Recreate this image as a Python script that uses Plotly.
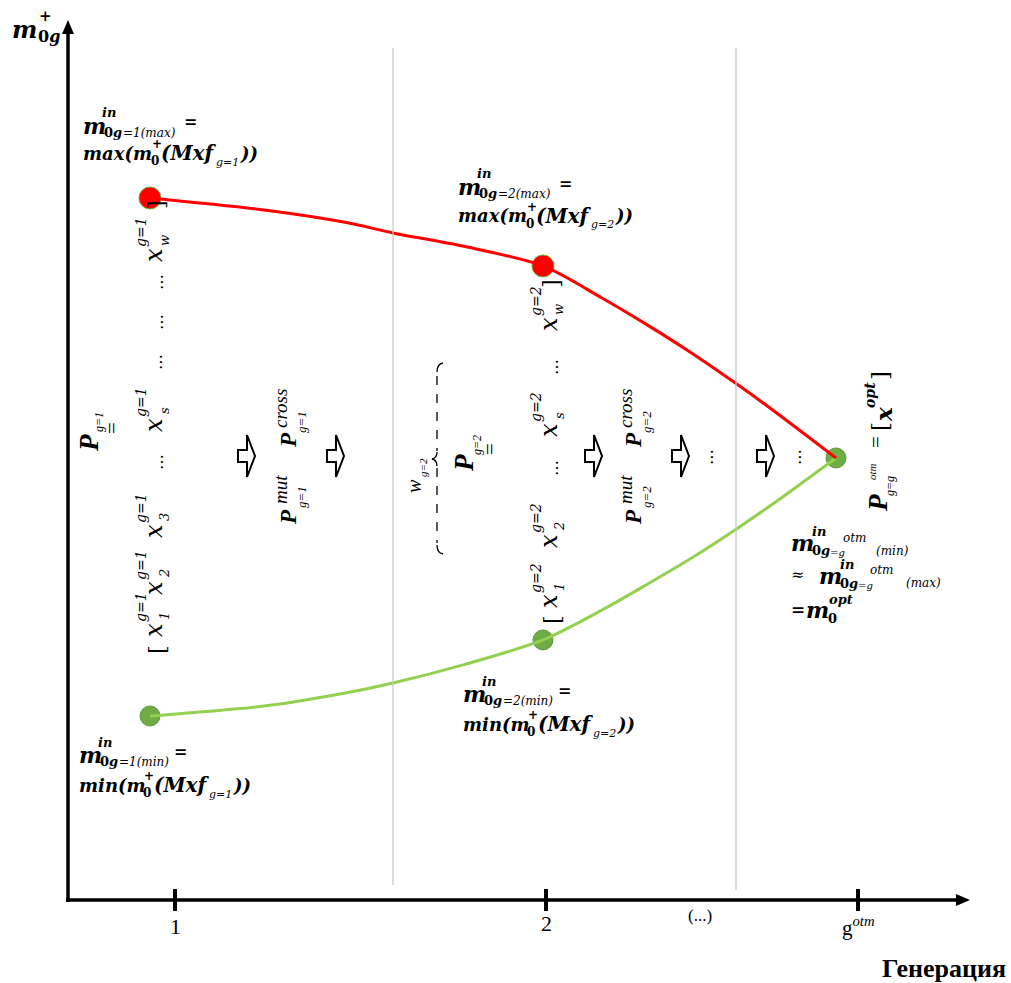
import plotly.graph_objects as go

# ---------------- data ----------------
generation_ticks = [1, 2, 2.841]
generation_tick_labels = ["1", "2", "g<sup><i>otm</i></sup>"]
ellipsis_generation = [2.415]
ellipsis_label = ["(...)"]

curve_gen = [0.9326, 1.2507, 1.4623, 1.5876, 1.7790, 1.9919,
             2.1509, 2.2695, 2.3881, 2.5094, 2.6226, 2.7817]
max_curve_fit = [79.77, 78.36, 76.99, 75.80, 74.28, 72.05,
                 68.41, 65.44, 62.27, 58.77, 55.32, 50.23]
min_curve_fit = [20.91, 22.09, 23.55, 24.66, 26.75, 29.55,
                 32.95, 35.80, 38.75, 42.05, 45.34, 50.23]

point_gen = [0.9326, 1.9919, 2.7817]
max_point_fit = [79.77, 72.05]
min_point_fit = [20.91, 29.55, 50.23]

x_axis_title = "Генерация"

# ---------------- layout helpers ----------------
W, H = 1011, 983
X1PX, GPX = 175, 371      # pixel of generation 1, pixels per generation
Y0PX, FPX = 900, 8.8      # pixel of fitness 0, pixels per unit
xr = [1 - X1PX / GPX, 1 + (W - X1PX) / GPX]
yr = [-(H - Y0PX) / FPX, Y0PX / FPX]

MF = "DejaVu Serif"
TF = "Liberation Serif"

ann = []
shapes = []


def T(x, y, s, size, font=MF, b=False, i=False, anchor="left", rot=False, xref="paper"):
    if i:
        s = "<i>" + s + "</i>"
    if b:
        s = "<b>" + s + "</b>"
    ann.append(dict(
        x=(x / W if xref == "paper" else x), y=1 - y / H, xref=xref, yref="paper",
        text=s, showarrow=False, borderpad=0,
        font=dict(family=font, size=size, color="black"),
        xanchor=("center" if rot else anchor), yanchor="middle",
        textangle=(-90 if rot else 0)))


def pp(x, y):
    return f"{x / W:.5f},{1 - y / H:.5f}"


def poly(pts, close=True):
    s = "M" + " L".join(pp(*p) for p in pts)
    return s + (" Z" if close else "")


def seg(x0, y0, x1, y1, color="black", width=3, dash="solid"):
    shapes.append(dict(type="line", xref="paper", yref="paper",
                       x0=x0 / W, y0=1 - y0 / H, x1=x1 / W, y1=1 - y1 / H,
                       line=dict(color=color, width=width, dash=dash)))


# ---------------- figure ----------------
fig = go.Figure()

# markers first (lines are drawn over them)
fig.add_trace(go.Scatter(x=point_gen, y=min_point_fit, mode="markers",
                         marker=dict(size=20, color="#6fac46", line=dict(color="#5e9a3a", width=1)),
                         hoverinfo="skip", showlegend=False))
fig.add_trace(go.Scatter(x=point_gen[:2], y=max_point_fit, mode="markers",
                         marker=dict(size=22, color="#ff0000", line=dict(color="#6fac46", width=1)),
                         hoverinfo="skip", showlegend=False))
fig.add_trace(go.Scatter(x=curve_gen, y=min_curve_fit, mode="lines",
                         line=dict(color="#92d050", width=3, shape="spline", smoothing=0.8),
                         hoverinfo="skip", showlegend=False))
fig.add_trace(go.Scatter(x=curve_gen, y=max_curve_fit, mode="lines",
                         line=dict(color="#ff0000", width=3, shape="spline", smoothing=0.8),
                         hoverinfo="skip", showlegend=False))

# axes with arrows
seg(68, 902, 68, 30, width=3.5)
shapes.append(dict(type="path", xref="paper", yref="paper",
                   path=poly([(62, 34), (74, 34), (68, 20)]), fillcolor="black", line=dict(width=0)))
seg(66, 900, 958, 900, width=3.5)
shapes.append(dict(type="path", xref="paper", yref="paper",
                   path=poly([(956, 894), (956, 906), (970, 900)]), fillcolor="black", line=dict(width=0)))

# tick marks at generations
for g in generation_ticks:
    shapes.append(dict(type="line", xref="x", yref="y", x0=g, x1=g, y0=-1.25, y1=1.25,
                       line=dict(color="black", width=4)))
for g, lab in zip(generation_ticks, generation_tick_labels):
    T(g, 926 if lab != "2" else 923, lab, 22 if len(lab) == 1 else 21,
      font=TF, anchor="center", xref="x")
for g, lab in zip(ellipsis_generation, ellipsis_label):
    T(g, 915, lab, 17, font=TF, anchor="center", xref="x")
T(944, 968, x_axis_title, 26, font=TF, b=True, anchor="center")

# grey separators
seg(393, 48, 393, 885, color="#c8c8c8", width=1.3)
seg(736, 48, 736, 890, color="#c8c8c8", width=1.3)

# y-axis title
T(11, 29, "m", 24, b=True, i=True)
T(38, 16, "+", 15, b=True)
T(37, 37, "0<i>g</i>", 16, b=True)


def in_label(x0, y1, y2, g, kind, o):
    T(x0, y1, "m", 22, b=True, i=True)
    T(x0 + 19, y1 - 13, "in", 13, b=True, i=True)
    T(x0 + 21, y1 + 6, "0<i>g</i>", 13, b=True)
    T(x0 + 40, y1 + 7, f"={g}({kind})", 12, i=True)
    T(x0 + o[0], y1 - 4, "=", 16, b=True)
    T(x0, y2, f"{kind}(m", 18, b=True, i=True)
    T(x0 + o[1], y2 - 9, "+", 12, b=True)
    T(x0 + o[1] - 1, y2 + 8, "0", 12, b=True)
    T(x0 + o[2], y2, "(Mxf", 20, b=True, i=True)
    T(x0 + o[3], y2 + 9, f"g={g}", 11, i=True)
    T(x0 + o[4], y2, "))", 18, b=True, i=True)


OMAX = (101, 69, 78, 133, 157)
OMIN = (95, 65, 75, 130, 154)
in_label(82, 126, 153, 1, "max", OMAX)
in_label(457, 187, 216, 2, "max", OMAX)
in_label(78, 755, 785, 1, "min", OMIN)
in_label(462, 694, 724, 2, "min", OMIN)

# bottom-right label
T(790, 543, "m", 22, b=True, i=True)
T(811, 531, "in", 13, b=True, i=True)
T(811, 550, "0<i>g</i>", 13, b=True)
T(829, 552, "=g", 10, i=True)
T(842, 538, "otm", 12, i=True)
T(875, 551, "(min)", 12, i=True)
T(790, 574, "≈", 16)
T(818, 576, "m", 22, b=True, i=True)
T(839, 564, "in", 13, b=True, i=True)
T(839, 583, "0<i>g</i>", 13, b=True)
T(857, 585, "=g", 10, i=True)
T(869, 570, "otm", 12, i=True)
T(905, 583, "(max)", 12, i=True)
T(790, 609, "=", 17, b=True)
T(805, 610, "m", 22, b=True, i=True)
T(828, 599, "opt", 13, b=True, i=True)
T(827, 618, "0", 13, b=True)


# rotated population matrices
def matrix(cx, gtxt, elems, dots, lb, rb):
    for sub, cy in elems:
        T(cx, cy, "x", 24, i=True, rot=True)
        T(cx - 13, cy - 23, gtxt, 14, i=True, rot=True)
        T(cx + 10, cy - 14, sub, 13, i=True, rot=True)
    for cy in dots:
        T(cx + 3, cy, "…", 16, rot=True)
    T(cx + 3, lb, "[", 22, rot=True)
    T(cx + 3, rb, "]", 22, rot=True)


matrix(154, "g=1", [("1", 630), ("2", 588), ("3", 531), ("s", 425), ("w", 255)],
       [462, 362, 322, 282], 650, 205)
matrix(549, "g=2", [("1", 601), ("2", 541), ("s", 430), ("w", 324)],
       [468, 367], 620, 284)

T(89, 443, "P", 27, font=TF, b=True, i=True, rot=True)
T(99, 422, "g=1", 12, font=TF, i=True, rot=True)
T(112, 428, "=", 21, font=TF, rot=True)

T(464, 463, "P", 27, font=TF, b=True, i=True, rot=True)
T(477, 445, "g=2", 12, font=TF, i=True, rot=True)
T(490, 449, "=", 21, font=TF, rot=True)

T(414, 486, "w", 20, font=TF, i=True, rot=True)
T(423, 468, "g=2", 11, font=TF, i=True, rot=True)

# mutation / crossover operators
for cx, g in ((288, "g=1"), (633, "g=2")):
    T(cx, 440, "P", 23, font=TF, b=True, i=True, rot=True)
    T(cx - 8, 409, "cross", 19, font=TF, i=True, rot=True)
    T(cx + 13, 422, g, 13, font=TF, i=True, rot=True)
    T(cx, 517, "P", 23, font=TF, b=True, i=True, rot=True)
    T(cx - 8, 490, "mut", 19, font=TF, i=True, rot=True)
    T(cx + 13, 497, g, 13, font=TF, i=True, rot=True)

# final population
T(878, 503, "P", 27, font=TF, b=True, i=True, rot=True)
T(890, 486, "g=g", 12, font=TF, i=True, rot=True)
T(872, 472, "otm", 11, font=TF, i=True, rot=True)
T(876, 442, "=", 21, font=TF, rot=True)
T(880, 427, "[", 23, rot=True)
T(883, 415, "x", 23, b=True, i=True, rot=True)
T(870, 395, "opt", 14, b=True, i=True, rot=True)
T(880, 376, "]", 23, rot=True)

# block arrows and dots
for L in (238, 327, 585, 672, 757):
    c = 456
    shapes.append(dict(type="path", xref="paper", yref="paper",
                       path=poly([(L, c - 6), (L + 9, c - 6), (L + 9, c - 21), (L + 17, c),
                                  (L + 9, c + 21), (L + 9, c + 6), (L, c + 6)]),
                       fillcolor="white", line=dict(color="black", width=2)))
for cx in (707, 795):
    T(cx, 457, "…", 16, rot=True)

# brace for w_{g=2}
shapes.append(dict(type="path", xref="paper", yref="paper",
                   path=f"M{pp(443, 363)} Q{pp(437, 364)} {pp(437, 372)}",
                   line=dict(color="black", width=1.3)))
seg(437, 376, 437, 451, width=1.3, dash="dash")
shapes.append(dict(type="path", xref="paper", yref="paper",
                   path=f"M{pp(437, 452)} Q{pp(437, 458)} {pp(432, 459)} Q{pp(437, 460)} {pp(437, 466)}",
                   line=dict(color="black", width=1.3)))
seg(437, 468, 437, 543, width=1.3, dash="dash")
shapes.append(dict(type="path", xref="paper", yref="paper",
                   path=f"M{pp(437, 545)} Q{pp(437, 553)} {pp(443, 554)}",
                   line=dict(color="black", width=1.3)))

fig.update_layout(
    width=W, height=H, autosize=False,
    margin=dict(l=0, r=0, t=0, b=0, pad=0),
    paper_bgcolor="white", plot_bgcolor="white",
    xaxis=dict(range=xr, visible=False, fixedrange=True),
    yaxis=dict(range=yr, visible=False, fixedrange=True),
    annotations=ann, shapes=shapes, showlegend=False,
)

fig.write_html("out.html", config={"displayModeBar": False},
               post_script="document.body.style.margin='0';document.body.style.overflow='hidden';")
